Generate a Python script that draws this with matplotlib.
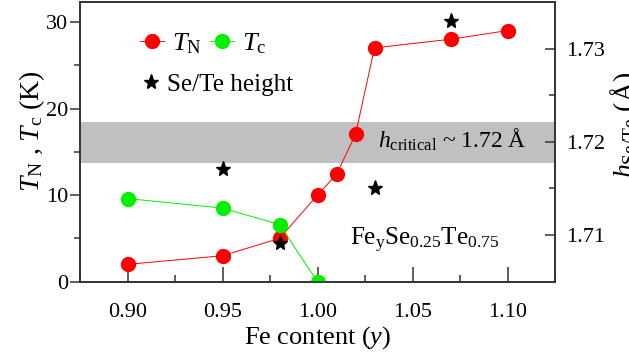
import matplotlib
matplotlib.use("Agg")
import matplotlib.pyplot as plt
import matplotlib.transforms as mtransforms
from matplotlib.lines import Line2D
from matplotlib.patches import Rectangle
from matplotlib.ticker import MultipleLocator

plt.rcParams['font.family'] = 'Liberation Serif'
plt.rcParams['mathtext.fontset'] = 'custom'
plt.rcParams['mathtext.rm'] = 'Liberation Serif'
plt.rcParams['mathtext.it'] = 'Liberation Serif:italic'
plt.rcParams['mathtext.bf'] = 'Liberation Serif:bold'

# Neel temperature
fe_tn = [0.90, 0.95, 0.98, 1.00, 1.01, 1.02, 1.03, 1.07, 1.10]
t_n = [2.0, 3.0, 5.0, 10.0, 12.4, 17.0, 27.0, 28.0, 29.0]
# superconducting Tc
fe_tc = [0.90, 0.95, 0.98, 1.00]
t_c = [9.6, 8.5, 6.6, 0.0]
# anion height (right axis)
fe_h = [0.95, 0.98, 1.03, 1.07]
h_sete = [1.7171, 1.7091, 1.7150, 1.7330]
# critical height band
h_band = [1.7177, 1.7221]

red = '#ff0000'
green = '#00f000'

fig = plt.figure(figsize=(6.29, 3.58), dpi=100)
ax1 = fig.add_axes([80 / 629, 1 - 281.7 / 358, 475 / 629, 279.7 / 358])
ax2 = ax1.twinx()

spine_c = '#333333'
for ax in (ax1, ax2):
    for s in ax.spines.values():
        s.set_color(spine_c)
        s.set_linewidth(1.2)

ax1.set_xlim(0.875, 1.125)
ax1.set_ylim(0, 32.3)
ax2.set_ylim(1.705, 1.735)

# grey band for h_critical, drawn under the curves
band_tr = mtransforms.blended_transform_factory(ax1.transAxes, ax2.transData)
ax1.add_patch(Rectangle((0, h_band[0]), 1, h_band[1] - h_band[0],
                        transform=band_tr, color='#c0c0c0', lw=0, zorder=0))

ax1.plot(fe_tn, t_n, '-o', color=red, lw=0.7, ms=10, mec=red, zorder=3)
ax1.plot(fe_tc, t_c, '-o', color=green, lw=0.7, ms=10, mec=green, zorder=3)
ax2.plot(fe_h, h_sete, '*', color='black', ms=11, zorder=4)

# ticks
ax1.xaxis.set_major_locator(MultipleLocator(0.05))
ax1.xaxis.set_minor_locator(MultipleLocator(0.025))
ax1.yaxis.set_major_locator(MultipleLocator(10))
ax1.yaxis.set_minor_locator(MultipleLocator(5))
ax2.yaxis.set_major_locator(MultipleLocator(0.01))
ax2.yaxis.set_minor_locator(MultipleLocator(0.005))
ax1.xaxis.set_major_formatter(plt.FormatStrFormatter('%.2f'))
ax2.yaxis.set_major_formatter(plt.FormatStrFormatter('%.2f'))

ax1.tick_params(axis='x', which='major', direction='in', length=11, width=1.1,
                color=spine_c, labelsize=16, pad=15, top=False)
ax1.tick_params(axis='x', which='minor', direction='in', length=5, width=1.1,
                color=spine_c, top=False)
ax1.tick_params(axis='y', which='major', direction='out', length=7, width=1.1,
                color=spine_c, labelsize=16, pad=1.5, right=False)
ax1.tick_params(axis='y', which='minor', direction='out', length=4, width=1.1,
                color=spine_c, right=False)
ax2.tick_params(axis='y', which='major', direction='in', length=7, width=1.1,
                color=spine_c, labelsize=16, pad=8)
ax2.tick_params(axis='y', which='minor', direction='in', length=4, width=1.1,
                color=spine_c)

ax1.set_xlabel('Fe content ($\\mathit{y}$)', fontsize=19, labelpad=2)
ax1.set_ylabel('$T_{\\mathrm{N}}$ , $T_{\\mathrm{c}}$ (K)', fontsize=20)
ax1.yaxis.set_label_coords(-0.07, 0.54)
ax2.set_ylabel('$h_{\\mathrm{Se/Te}}$ (Å)', fontsize=20)
ax2.yaxis.set_label_coords(1.112, 0.56)

# legends
h_tn = Line2D([], [], color=red, marker='o', lw=0.7, ms=10)
h_tc = Line2D([], [], color=green, marker='o', lw=0.7, ms=10)
leg1 = ax1.legend([h_tn, h_tc], ['$T_{\\mathrm{N}}$', '$T_{\\mathrm{c}}$'], ncol=2,
                  loc='center left', bbox_to_anchor=(0.126, 0.85), frameon=False,
                  fontsize=19, handlelength=0.9, handletextpad=0.3,
                  columnspacing=0.35, borderpad=0, borderaxespad=0)
ax1.add_artist(leg1)
h_star = Line2D([], [], color='black', marker='*', ls='none', ms=11)
ax1.legend([h_star], ['Se/Te height'], loc='center left',
           bbox_to_anchor=(0.126, 0.705), frameon=False, fontsize=18,
           handlelength=0.9, handletextpad=0.2, borderpad=0, borderaxespad=0)

ax1.text(0.627, 0.478, '$h_{\\mathrm{critical}}$ ~ 1.72 Å', transform=ax1.transAxes,
         fontsize=17, ha='left', va='baseline')
ax1.text(0.568, 0.131, '$\\mathrm{Fe_{y}Se_{0.25}Te_{0.75}}$', transform=ax1.transAxes,
         fontsize=18, ha='left', va='baseline')

fig.savefig('out.png', dpi=100)
